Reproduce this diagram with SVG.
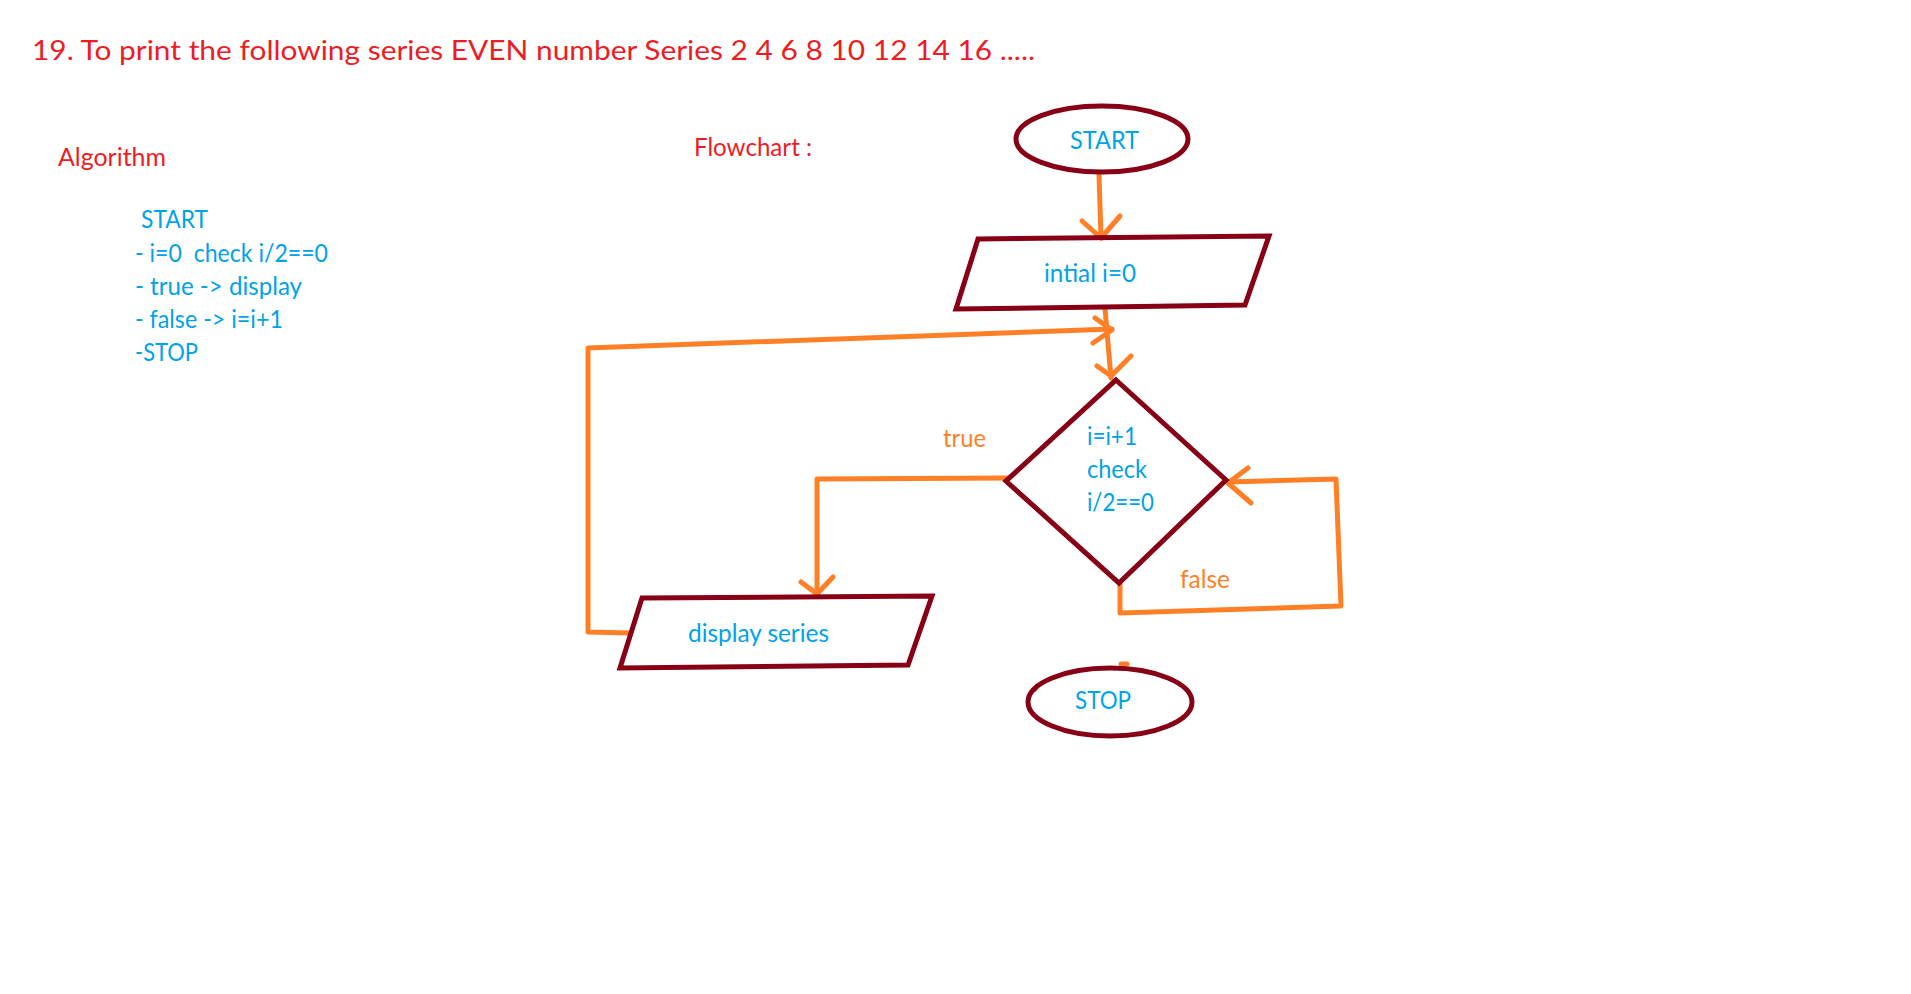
<svg xmlns="http://www.w3.org/2000/svg" width="1911" height="994" viewBox="0 0 1911 994">
<style>
text{font-family:Lato,"Open Sans","Liberation Sans",sans-serif;font-size:25px;white-space:pre}
.red{fill:#ED1C24}.blue{fill:#00A2E8}.org{fill:#FF7F27}
.big{font-size:27px}
.shape{fill:none;stroke:#880015;stroke-width:5;stroke-linejoin:miter}
.con{fill:none;stroke:#FF7F27;stroke-width:5;stroke-linecap:round;stroke-linejoin:round}
</style>
<rect width="1911" height="994" fill="#ffffff"/>
<g id="titles">
<text class="red big" x="32" y="60" textLength="1003" lengthAdjust="spacingAndGlyphs">19. To print the following series EVEN number Series 2 4 6 8 10 12 14 16 .....</text>
<text class="red" x="58" y="166" textLength="108" lengthAdjust="spacingAndGlyphs">Algorithm</text>
<text class="red" x="694" y="156" textLength="118" lengthAdjust="spacingAndGlyphs">Flowchart :</text>
</g>
<g id="algorithm">
<text class="blue" x="141" y="228" textLength="67" lengthAdjust="spacingAndGlyphs">START</text>
<text class="blue" x="135" y="262" textLength="193" lengthAdjust="spacingAndGlyphs">- i=0  check i/2==0</text>
<text class="blue" x="135" y="295" textLength="167" lengthAdjust="spacingAndGlyphs">- true -&gt; display</text>
<text class="blue" x="135" y="328" textLength="148" lengthAdjust="spacingAndGlyphs">- false -&gt; i=i+1</text>
<text class="blue" x="135" y="361" textLength="63" lengthAdjust="spacingAndGlyphs">-STOP</text>
</g>
<g id="connectors">
<path class="con" d="M1099,174 L1101,238"/>
<polyline class="con" points="1082,221 1101,238 1120,216"/>
<path class="con" d="M1105,308 L1111,378"/>
<polyline class="con" points="1097,366 1111,376 1131,356"/>
<path class="con" d="M631,633 L588,632 L588,348 L1112,329"/>
<polyline class="con" points="1095,318 1112,330 1093,343"/>
<path class="con" d="M1008,478 L817,479 L817,596"/>
<polyline class="con" points="801,582 817,594 833,577"/>
<path class="con" d="M1120,584 L1120,613 L1341,606 L1336,479 L1228,482"/>
<polyline class="con" points="1248,468 1228,483 1251,503"/>
<path class="con" d="M1121,664 L1127,664"/>
<path class="con" d="M1035,689 L1037,686"/>
</g>
<g id="start">
<ellipse class="shape" cx="1102" cy="139" rx="86" ry="33"/>
<text class="blue" x="1070" y="149" textLength="69" lengthAdjust="spacingAndGlyphs">START</text>
</g>
<g id="init">
<polygon class="shape" points="978,239 1269,236 1245,305 956,309"/>
<text class="blue" x="1044" y="282" textLength="92" lengthAdjust="spacingAndGlyphs">intial i=0</text>
</g>
<g id="decision">
<polygon class="shape" points="1116,380 1226,480 1119,583 1006,481"/>
<text class="blue" x="1087" y="445" textLength="50" lengthAdjust="spacingAndGlyphs">i=i+1</text>
<text class="blue" x="1087" y="478" textLength="60" lengthAdjust="spacingAndGlyphs">check</text>
<text class="blue" x="1087" y="511" textLength="67" lengthAdjust="spacingAndGlyphs">i/2==0</text>
</g>
<g id="labels">
<text class="org" x="943" y="447" textLength="43" lengthAdjust="spacingAndGlyphs">true</text>
<text class="org" x="1180" y="588" textLength="50" lengthAdjust="spacingAndGlyphs">false</text>
</g>
<g id="display">
<polygon class="shape" points="642,598 932,596 908,665 620,668"/>
<text class="blue" x="688" y="642" textLength="141" lengthAdjust="spacingAndGlyphs">display series</text>
</g>
<g id="stop">
<ellipse class="shape" cx="1110" cy="702" rx="82" ry="34"/>
<text class="blue" x="1075" y="709" textLength="56" lengthAdjust="spacingAndGlyphs">STOP</text>
</g>
</svg>
